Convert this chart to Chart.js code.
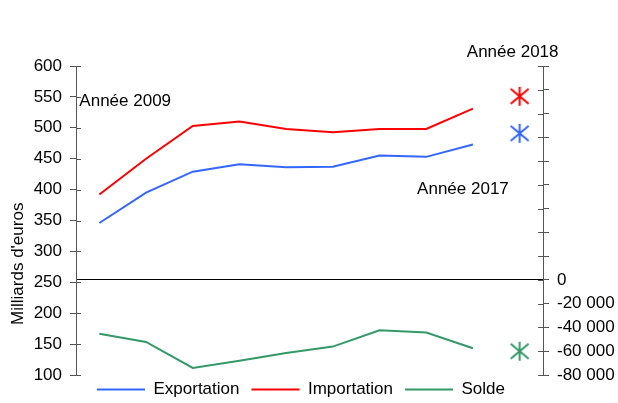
<!DOCTYPE html>
<html>
<head>
<meta charset="utf-8">
<script src="https://cdn.jsdelivr.net/npm/chart.js@4/dist/chart.umd.min.js"></script>
<style>
html,body{margin:0;padding:0;background:#fff;}
#wrap{position:relative;width:618px;height:403px;}
</style>
</head>
<body>
<div id="wrap"><canvas id="c" width="618" height="403"></canvas></div>
<script>
// ---- data ----
const years = ['2009','2010','2011','2012','2013','2014','2015','2016','2017','2018'];
const exportation = [346, 395, 429, 441, 436, 437, 455, 453, 473, null];
const importation = [392, 450, 503, 510, 498, 493, 498, 498, 531, null];
const solde = [-45200, -52200, -74100, -68000, -61500, -56100, -42400, -44300, -57500, null];
const exportation2018 = [null, null, null, null, null, null, null, null, null, 491];
const importation2018 = [null, null, null, null, null, null, null, null, null, 551];
const solde2018 = [null, null, null, null, null, null, null, null, null, -60000];
const leftTicks = {min: 100, max: 600, step: 50};
const rightTicks = {min: -80000, max: 180000, step: 20000};
const seriesNames = ['Exportation', 'Importation', 'Solde'];
const yTitle = "Milliards d'euros";
const annotations = [
  {text: 'Année 2009', idx: 0, val: 543, align: 'left', dx: -20},
  {text: 'Année 2017', idx: 8, val: 400, align: 'center', dx: -10},
  {text: 'Année 2018', idx: 9, val: 622, align: 'center', dx: -7}
];

// ---- styles ----
const BLUE = '#3366ff', RED = '#ff0000', GREEN = '#339966';
const FONT = "'Liberation Sans', Arial, sans-serif";
Chart.defaults.font.family = FONT;
Chart.defaults.font.size = 17;
Chart.defaults.color = '#000';

function star(color){
  const s = 21, c = document.createElement('canvas');
  c.width = s; c.height = s;
  const g = c.getContext('2d');
  g.strokeStyle = color; g.lineWidth = 2; g.lineCap = 'butt';
  const m = s/2, r = 9.5;
  g.beginPath();
  g.moveTo(m, m - r); g.lineTo(m, m + r);
  g.moveTo(m - 9, m - 7.5); g.lineTo(m + 9, m + 7.5);
  g.moveTo(m + 9, m - 7.5); g.lineTo(m - 9, m + 7.5);
  g.stroke();
  return c;
}

function fmt(v){
  const a = Math.abs(v).toString().replace(/\B(?=(\d{3})+(?!\d))/g, ' ');
  return (v < 0 ? '-' : '') + a;
}

const AXIS = '#555';

const extras = {
  id: 'extras',
  afterLayout(chart){
    // nudge the legend: centre it slightly left and lift it a little
    const lg = chart.legend;
    if (lg) { lg.right -= 16; lg.top -= 6; lg.bottom -= 6; }
  },
  afterDatasetsDraw(chart){
    const ctx = chart.ctx;
    const x = chart.scales.x, y = chart.scales.y, y2 = chart.scales.y2;
    ctx.save();
    ctx.strokeStyle = AXIS; ctx.lineWidth = 1;
    // inner parts of tick marks
    y.ticks.forEach((t, i) => {
      const py = Math.round(y.getPixelForTick(i)) + 0.5;
      ctx.beginPath(); ctx.moveTo(y.right, py); ctx.lineTo(y.right + 5, py); ctx.stroke();
    });
    y2.ticks.forEach((t, i) => {
      const py = Math.round(y2.getPixelForTick(i)) + 0.5;
      ctx.beginPath(); ctx.moveTo(y2.left, py); ctx.lineTo(y2.left - 5, py); ctx.stroke();
    });
    // annotations
    ctx.fillStyle = '#000';
    ctx.font = '17px ' + FONT;
    ctx.textBaseline = 'middle';
    annotations.forEach(a => {
      ctx.textAlign = a.align;
      ctx.fillText(a.text, x.getPixelForValue(a.idx) + a.dx, y.getPixelForValue(a.val));
    });
    // y axis title
    ctx.translate(y.left + 18.5, y.getPixelForValue(280));
    ctx.rotate(-Math.PI / 2);
    ctx.textAlign = 'center';
    ctx.fillText(yTitle, 0, 0);
    ctx.restore();
  }
};

const line = (label, data, color, axis) => ({
  label, data, yAxisID: axis,
  borderColor: color, backgroundColor: color, borderWidth: 2,
  pointRadius: 0, pointHoverRadius: 0, tension: 0, spanGaps: false
});
const mark = (label, data, color, axis) => ({
  label, data, yAxisID: axis, showLine: false,
  borderColor: color, backgroundColor: color,
  pointStyle: star(color), pointRadius: 10, pointHoverRadius: 10
});

new Chart(document.getElementById('c'), {
  type: 'line',
  data: {
    labels: years,
    datasets: [
      line(seriesNames[0], exportation, BLUE, 'y'),
      line(seriesNames[1], importation, RED, 'y'),
      line(seriesNames[2], solde, GREEN, 'y2'),
      mark(seriesNames[0] + ' 2018', exportation2018, BLUE, 'y'),
      mark(seriesNames[1] + ' 2018', importation2018, RED, 'y'),
      mark(seriesNames[2] + ' 2018', solde2018, GREEN, 'y2')
    ]
  },
  options: {
    responsive: false,
    animation: false,
    events: [],
    layout: {padding: {top: 66, left: 0, right: 0, bottom: -11}},
    plugins: {
      tooltip: {enabled: false},
      legend: {
        position: 'bottom',
        labels: {
          filter: (item) => item.datasetIndex < 3,
          usePointStyle: true, pointStyle: 'line', pointStyleWidth: 48,
          boxWidth: 48, boxHeight: 17, padding: 12,
          font: {size: 17}, color: '#000'
        }
      }
    },
    scales: {
      x: {
        type: 'category', offset: true, display: false
      },
      y: {
        position: 'left',
        min: leftTicks.min, max: leftTicks.max,
        afterFit: (s) => { s.width = 76; },
        ticks: {stepSize: leftTicks.step, autoSkip: false, padding: 8, font: {size: 17}, color: '#000'},
        grid: {drawOnChartArea: false, tickLength: 6, tickColor: AXIS, color: AXIS},
        border: {display: true, color: AXIS, width: 1}
      },
      y2: {
        position: 'right',
        min: rightTicks.min, max: rightTicks.max,
        afterFit: (s) => { s.width = 75; },
        ticks: {stepSize: rightTicks.step, autoSkip: false, padding: 8, font: {size: 17}, color: '#000',
          callback: (v) => v <= 0 ? fmt(v) : ''},
        grid: {drawOnChartArea: true, tickLength: 6, tickColor: AXIS,
          color: (c) => (c.tick && c.tick.value === 0) ? '#000' : 'rgba(0,0,0,0)', lineWidth: 1},
        border: {display: true, color: AXIS, width: 1}
      }
    }
  },
  plugins: [extras]
});
</script>
</body>
</html>
